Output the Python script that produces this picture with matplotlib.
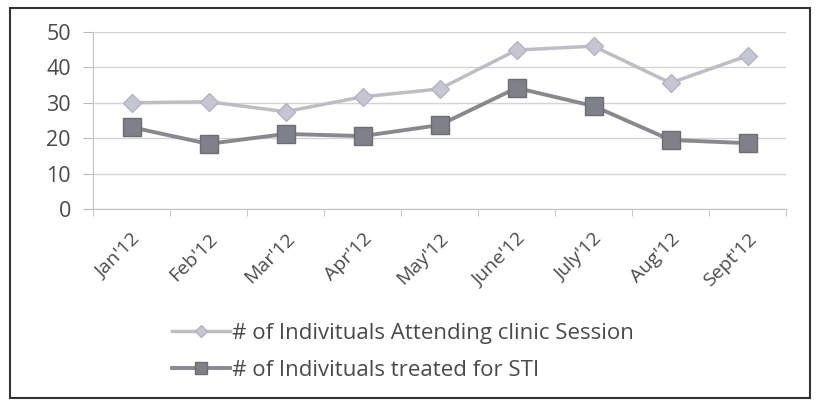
import matplotlib
matplotlib.use("Agg")
from matplotlib import pyplot as plt
from matplotlib.patches import Rectangle

plt.rcParams['font.family'] = ['Open Sans', 'DejaVu Sans']

months = ["Jan'12", "Feb'12", "Mar'12", "Apr'12", "May'12",
          "June'12", "July'12", "Aug'12", "Sept'12"]
attending = [30, 30.3, 27.5, 31.7, 33.9, 44.9, 46, 35.6, 43.3]
treated = [23.1, 18.4, 21.2, 20.6, 23.7, 34.2, 29.1, 19.5, 18.6]
yticks = [0, 10, 20, 30, 40, 50]

fig = plt.figure(figsize=(8.18, 4.03), dpi=100)
ax = fig.add_axes([0.1137, 0.4814, 0.8472, 0.4392])

x = list(range(len(months)))
l1, = ax.plot(x, attending, color='#bdbdc6', lw=2.5, marker='D', ms=9,
              markerfacecolor='#c6c6d2', markeredgecolor='#b4b4c0', zorder=3)
l2, = ax.plot(x, treated, color='#88888f', lw=2.8, marker='s', ms=13.5,
              markerfacecolor='#808089', markeredgecolor='#6c6c74', zorder=3)

ax.set_xlim(-0.5, len(months) - 0.5)
ax.set_ylim(0, 50)
ax.set_yticks(yticks)
ax.set_xticks(x)
ax.set_xticklabels(months, rotation=45, ha='right', rotation_mode='anchor',
                   fontsize=14, color='#4a4a4a')
ax.set_xticks([i - 0.5 for i in range(len(months) + 1)], minor=True)
ax.tick_params(axis='x', which='major', length=0, pad=15)
ax.tick_params(axis='x', which='minor', length=5, color='#bbbbbb', direction='out')
ax.tick_params(axis='y', length=7, color='#bbbbbb', labelsize=15.5, labelcolor='#4a4a4a', pad=9)
ax.grid(axis='y', color='#d4d4d4', lw=1)
ax.set_axisbelow(True)
for s in ['top', 'right']:
    ax.spines[s].set_visible(False)
ax.spines['left'].set_color('#c4c4c4')
ax.spines['bottom'].set_color('#c4c4c4')

fig.legend([l1, l2],
           ["# of Indivituals Attending clinic Session", "# of Indivituals treated for STI"],
           loc='center left', bbox_to_anchor=(0.186, 0.127), frameon=False,
           fontsize=16, handlelength=2.6, handletextpad=0.1, labelspacing=0.7,
           labelcolor='#4a4a4a', markerscale=0.65)

fig.patches.append(Rectangle((0.012, 0.012), 0.978, 0.968, transform=fig.transFigure,
                             fill=False, edgecolor='#333333', lw=1.5))

fig.savefig('out.png', dpi=100)
